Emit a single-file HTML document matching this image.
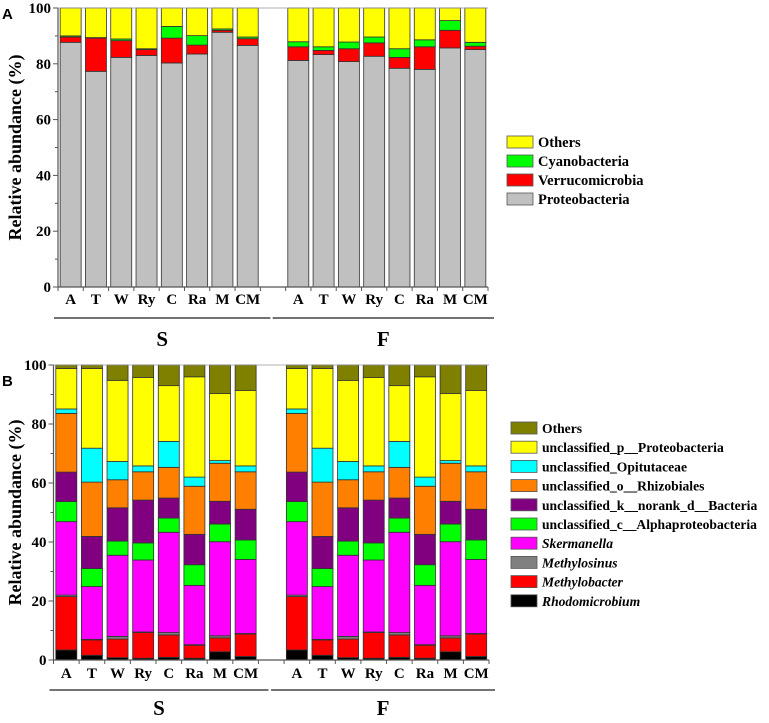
<!DOCTYPE html>
<html><head><meta charset="utf-8"><style>
html,body{margin:0;padding:0;background:#fff;}
svg text{font-family:"Liberation Serif","Times New Roman",serif;font-weight:bold;}
svg text.sans{font-family:"Liberation Sans",sans-serif;}
</style></head><body>
<svg id="fig" width="769" height="718" viewBox="0 0 769 718" xmlns="http://www.w3.org/2000/svg"></svg>
<script>
const categories = ["A","T","W","Ry","C","Ra","M","CM"];
const groups = ["S","F"];
const yTicks = [0,20,40,60,80,100];
// Panel A (phylum) values, S then F
const aProteoS = [87.7,77.3,82.3,83.0,80.3,83.5,91.3,86.6];
const aVerrucoS = [1.9,11.9,6.0,2.1,8.9,3.2,0.7,2.4];
const aCyanoS = [0.4,0.2,0.6,0.3,4.2,3.4,0.5,0.6];
const aProteoF = [81.2,83.3,80.8,82.7,78.4,78.0,85.7,85.1];
const aVerrucoF = [4.9,1.5,4.6,4.8,3.9,8.1,6.3,1.2];
const aCyanoF = [1.8,1.3,2.4,2.1,3.1,2.5,3.5,1.4];
// Panel B (genus) values, S group (F group identical)
const bRhodo = [3.4,1.6,0.8,0.6,0.9,0.6,2.8,1.2];
const bMethylobacter = [18.1,5.2,6.3,8.7,7.6,4.4,4.7,7.6];
const bMethylosinus = [0.5,0.2,0.9,0.2,0.8,0.2,0.7,0.2];
const bSkermanella = [24.9,17.9,27.5,24.4,34.0,20.1,31.9,25.1];
const bAlpha = [6.8,6.1,4.8,5.8,4.8,7.0,6.0,6.6];
const bBacteria = [10.0,10.9,11.3,14.5,6.8,10.3,7.7,10.4];
const bRhizo = [19.9,18.4,9.5,9.6,10.4,16.3,12.9,12.7];
const bOpitut = [1.5,11.5,6.2,2.0,8.8,3.1,0.9,2.0];
const bProteo = [13.7,27.0,27.5,30.0,18.9,34.0,22.7,25.6];

const NS="http://www.w3.org/2000/svg";
const svg=document.getElementById('fig');
function mk(tag,attrs,parent){const e=document.createElementNS(NS,tag);for(const k in attrs)e.setAttribute(k,attrs[k]);(parent||svg).appendChild(e);return e;}
function txt(s,attrs,parent){const e=mk('text',attrs,parent);e.textContent=s;return e;}

function rest(arrs){return arrs[0].map((_,i)=>Math.max(0,100-arrs.reduce((s,a)=>s+a[i],0)));}

function panel(cfg){
  const g=mk('g',{});
  
  
  const {x0,x1,yTop,yBot}=cfg;
  const slot=(x1-x0)/17;
  const yS=v=>yBot-(v/100)*(yBot-yTop);
  const xC=k=>x0+(k+0.5)*slot;
  groups.forEach((grp,gi)=>{
    const series=gi===0?cfg.seriesS:cfg.seriesF;
    categories.forEach((c,i)=>{
      const k=gi*9+i;
      let cum=0;
      series.forEach((s,si)=>{
        const v=s.vals[i];
        const r=mk('rect',{x:xC(k)-cfg.bw/2,y:yS(cum+v),width:cfg.bw,height:Math.max(0,yS(cum)-yS(cum+v)),fill:s.color,stroke:'#333','stroke-width':0.8},g);
        
        
        cum+=v;
      });
      const l=txt(c,{x:xC(k),y:cfg.labY,'text-anchor':'middle','font-size':15},g);
      
      
    });
    const gx0=gi===0?x0-4:x0+9*slot-13, gx1=gi===0?x0+8*slot+10:x1+6;
    const gl=mk('line',{x1:gx0,x2:gx1,y1:cfg.grpLineY,y2:cfg.grpLineY,stroke:'#444','stroke-width':1.5},g);
    
    
    const gt=txt(grp,{x:(gx0+gx1)/2,y:cfg.grpY,'text-anchor':'middle','font-size':21},g);
    
    
  });
  const ya=mk('line',{x1:x0,x2:x0,y1:yTop,y2:yBot,stroke:'#555','stroke-width':1.2},g);
  
  
  const xa=mk('line',{x1:x0,x2:x1,y1:yBot,y2:yBot,stroke:'#555','stroke-width':1.2},g);
  
  
  mk('line',{x1:x0,x2:x1,y1:yTop,y2:yTop,stroke:'#999','stroke-width':0.8},g);
  for(let k=0;k<=17;k++){mk('line',{x1:x0+k*slot,x2:x0+k*slot,y1:yBot,y2:yBot+4,stroke:'#555'},g);}
  yTicks.forEach(t=>{
    mk('line',{x1:x0-5,x2:x0,y1:yS(t),y2:yS(t),stroke:'#555'},g);
    if(t<100)mk('line',{x1:x0-3,x2:x0,y1:yS(t+10),y2:yS(t+10),stroke:'#555'},g);
    const tl=txt(String(t),{x:x0-7,y:yS(t)+5,'text-anchor':'end','font-size':15},g);
    
    
  });
  const yt=txt('Relative abundance (%)',{x:0,y:0,'text-anchor':'middle','font-size':18,transform:`translate(21,${(yTop+yBot)/2}) rotate(-90)`},g);
  
  
  const pl=txt(cfg.letter,{x:2,y:cfg.letterY,'font-size':15,'class':'sans'},g);
  
  
  const lg=mk('g',{},g);
  
  
  cfg.legend.forEach((s,i)=>{
    const y=cfg.legY+i*cfg.legStep;
    const e=mk('g',{},lg);
    
    
    mk('rect',{x:cfg.legX,y:y-6,width:26,height:12,fill:s.color,stroke:'#555','stroke-width':0.8},e);
    txt(s.label,{x:cfg.legX+31,y:y+5,'font-size':cfg.legFont,'font-style':s.italic?'italic':'normal'},e);
  });
}

const COL={yellow:'#ffff00',green:'#00ff00',red:'#ff0000',gray:'#c0c0c0',olive:'#808000',cyan:'#00ffff',orange:'#ff8000',purple:'#800080',magenta:'#ff00ff',dgray:'#808080',black:'#000000'};

function seriesA(p,v,c){return [
  {key:'proteobacteria',vals:p,color:COL.gray},
  {key:'verrucomicrobia',vals:v,color:COL.red},
  {key:'cyanobacteria',vals:c,color:COL.green},
  {key:'others',vals:rest([p,v,c]),color:COL.yellow}];}
panel({name:'panel-a-chart',letter:'A',letterY:19,x0:58,x1:488,yTop:8,yBot:287,bw:21,labY:304,grpLineY:318,grpY:346,
  seriesS:seriesA(aProteoS,aVerrucoS,aCyanoS),seriesF:seriesA(aProteoF,aVerrucoF,aCyanoF),
  legX:507,legY:142,legStep:19,legFont:14.5,
  legend:[{key:'others',label:'Others',color:COL.yellow},{key:'cyanobacteria',label:'Cyanobacteria',color:COL.green},{key:'verrucomicrobia',label:'Verrucomicrobia',color:COL.red},{key:'proteobacteria',label:'Proteobacteria',color:COL.gray}]});

const bList=[bRhodo,bMethylobacter,bMethylosinus,bSkermanella,bAlpha,bBacteria,bRhizo,bOpitut,bProteo];
const bSeries=[
  {key:'rhodomicrobium',vals:bRhodo,color:COL.black},
  {key:'methylobacter',vals:bMethylobacter,color:COL.red},
  {key:'methylosinus',vals:bMethylosinus,color:COL.dgray},
  {key:'skermanella',vals:bSkermanella,color:COL.magenta},
  {key:'alphaproteobacteria',vals:bAlpha,color:COL.green},
  {key:'bacteria',vals:bBacteria,color:COL.purple},
  {key:'rhizobiales',vals:bRhizo,color:COL.orange},
  {key:'opitutaceae',vals:bOpitut,color:COL.cyan},
  {key:'proteobacteria',vals:bProteo,color:COL.yellow},
  {key:'others',vals:rest(bList),color:COL.olive}];
panel({name:'panel-b-chart',letter:'B',letterY:386,x0:53.5,x1:489,yTop:365,yBot:660,bw:21,labY:678,grpLineY:690,grpY:715,
  seriesS:bSeries,seriesF:bSeries,legX:511,legY:428,legStep:19.2,legFont:13.6,
  legend:[{key:'others',label:'Others',color:COL.olive},
  {key:'proteobacteria',label:'unclassified_p__Proteobacteria',color:COL.yellow},
  {key:'opitutaceae',label:'unclassified_Opitutaceae',color:COL.cyan},
  {key:'rhizobiales',label:'unclassified_o__Rhizobiales',color:COL.orange},
  {key:'bacteria',label:'unclassified_k__norank_d__Bacteria',color:COL.purple},
  {key:'alphaproteobacteria',label:'unclassified_c__Alphaproteobacteria',color:COL.green},
  {key:'skermanella',label:'Skermanella',color:COL.magenta,italic:true},
  {key:'methylosinus',label:'Methylosinus',color:COL.dgray,italic:true},
  {key:'methylobacter',label:'Methylobacter',color:COL.red,italic:true},
  {key:'rhodomicrobium',label:'Rhodomicrobium',color:COL.black,italic:true}]});
</script>
</body></html>
